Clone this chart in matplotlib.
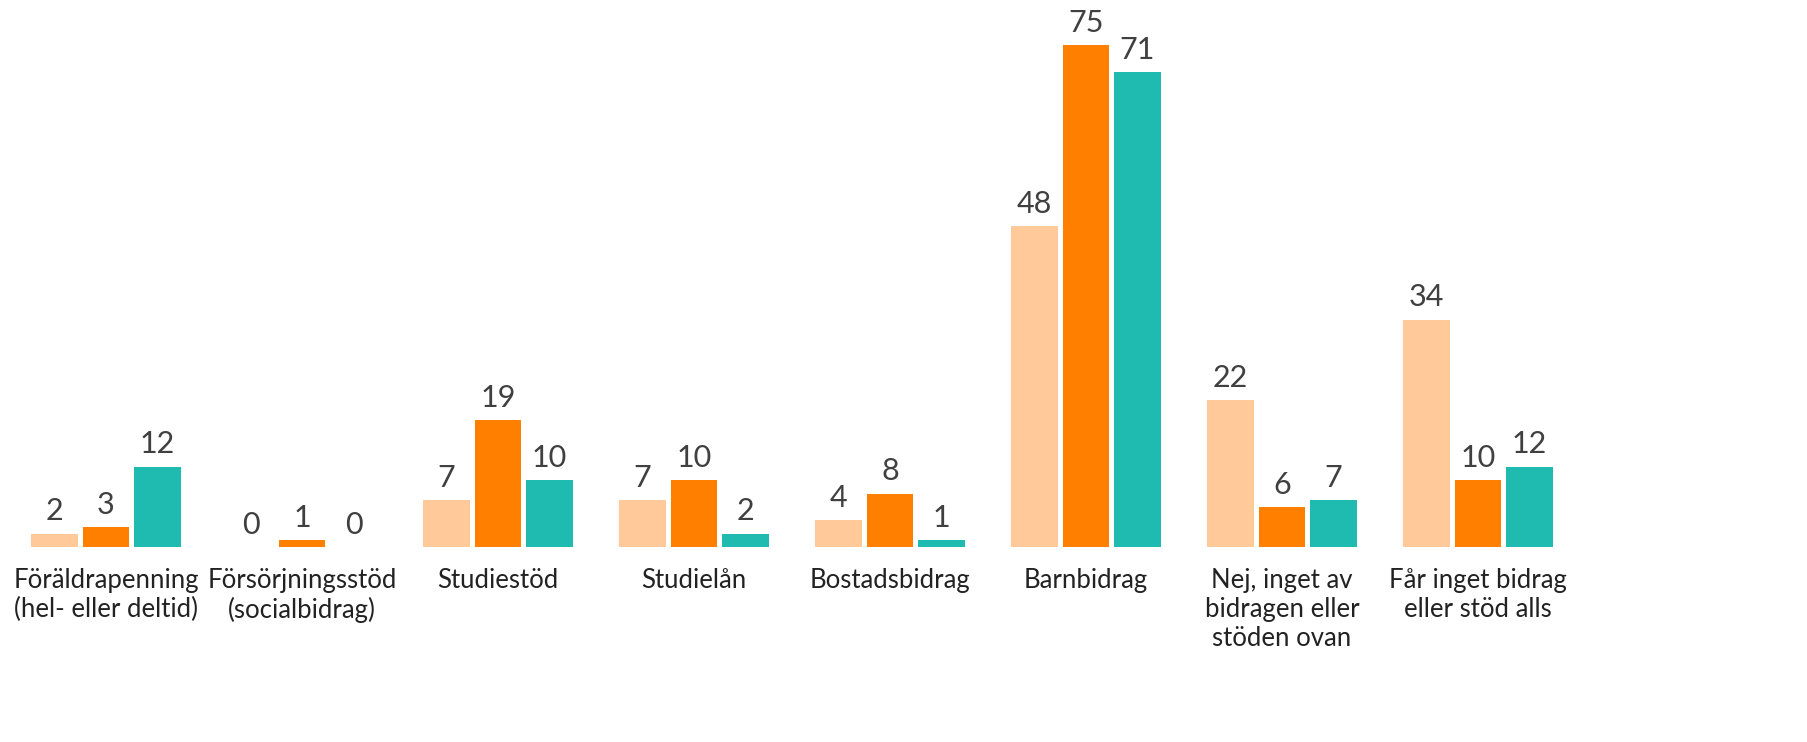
import numpy as np
import matplotlib
matplotlib.use('Agg')
import matplotlib.pyplot as plt

plt.rcParams['font.family'] = ['Lato', 'DejaVu Sans']

categories = ['Föräldrapenning\n(hel- eller deltid)', 'Försörjningsstöd\n(socialbidrag)',
              'Studiestöd', 'Studielån', 'Bostadsbidrag', 'Barnbidrag',
              'Nej, inget av\nbidragen eller\nstöden ovan', 'Får inget bidrag\neller stöd alls']
serie_1 = [2, 0, 7, 7, 4, 48, 22, 34]
serie_2 = [3, 1, 19, 10, 8, 75, 6, 10]
serie_3 = [12, 0, 10, 2, 1, 71, 7, 12]
colors = ['#FFC999', '#FF7F00', '#20BBB0']

fig = plt.figure(figsize=(18.08, 7.42), dpi=100)
ax = fig.add_axes([8/1808, 195/742, 1568/1808, 535/742])

x = np.arange(len(categories))
w = 0.237
step = 0.263
for k, (vals, c) in enumerate(zip([serie_1, serie_2, serie_3], colors)):
    pos = x + (k-1)*step
    ax.bar(pos, vals, width=w, color=c)
    for p, v in zip(pos, vals):
        ax.annotate(str(v), (p, v), xytext=(0, 6), textcoords='offset points',
                    ha='center', va='bottom', fontsize=22, color='#404040')

ax.set_xlim(-0.5, len(categories)-0.5)
ax.set_ylim(0, 80)
ax.set_xticks(x)
ax.set_xticklabels(categories, fontsize=18.5, color='#222222', linespacing=1.2, va='top')
ax.tick_params(axis='x', length=0, pad=15)
ax.set_yticks([])
for s in ax.spines.values():
    s.set_visible(False)

fig.savefig('out.png', dpi=100)
